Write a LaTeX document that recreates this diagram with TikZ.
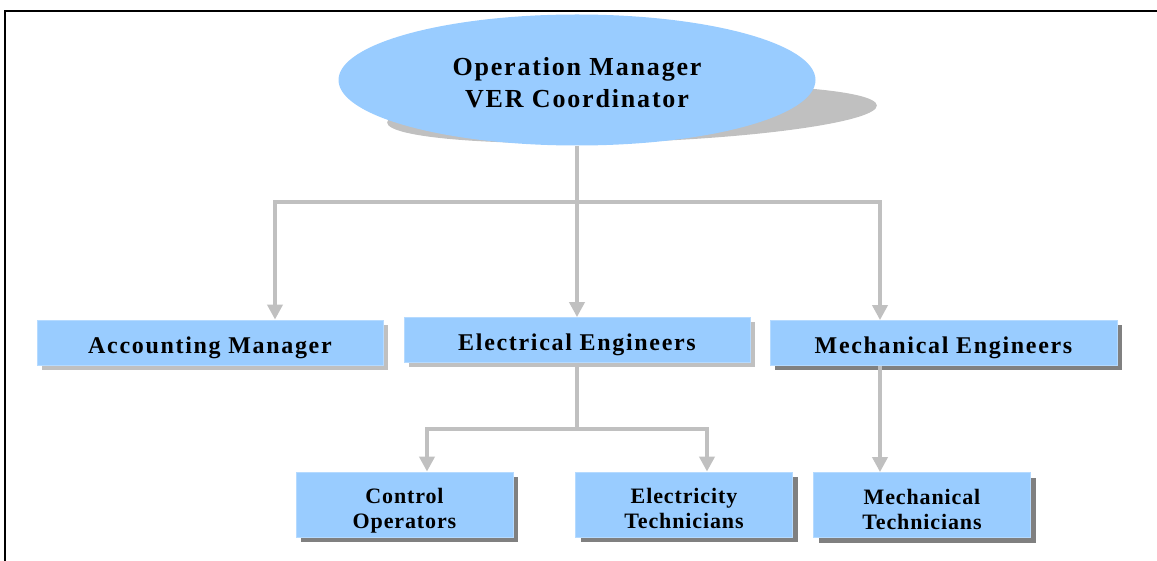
\documentclass[tikz,border=0pt]{standalone}
\usepackage{fontspec}
\usetikzlibrary{arrows.meta,shapes.geometric,shadows}
\newfontfamily\titlefont{Liberation Serif}[LetterSpace=7]
\newfontfamily\rowfont{Liberation Serif}[LetterSpace=4]
\definecolor{boxblue}{HTML}{99CCFF}
\definecolor{edgeblue}{HTML}{B5DAFF}
\definecolor{linegray}{HTML}{C0C0C0}
\definecolor{shadelight}{HTML}{C0C0C0}
\definecolor{shadedark}{HTML}{808080}
\begin{document}
\begin{tikzpicture}[x=1pt,y=-1pt,
  box/.style={rectangle, fill=boxblue, draw=edgeblue, line width=0.8pt, inner sep=0pt, text=black},
  lightshade/.style={general shadow={fill=shadelight, shadow xshift=5pt, shadow yshift=-5pt}},
  darkshade/.style={general shadow={fill=shadedark, shadow xshift=5pt, shadow yshift=-5pt}},
  upper/.style={box, minimum width=346pt, minimum height=45pt, text height=21pt, text depth=0pt, font=\titlefont\bfseries\fontsize{24}{28}\selectfont},
  lower/.style={box, minimum width=217pt, minimum height=65pt, align=center, text height=48pt, text depth=0pt, font=\rowfont\bfseries\fontsize{22}{25}\selectfont},
  conn/.style={draw=linegray, line width=4pt},
  arr/.style={conn, -{Triangle[width=15pt,length=15pt]}},
]
\useasboundingbox (0,0) rectangle (1157,561);
\draw[line width=2.5pt] (5,561) -- (5,11) -- (1157,11);

% top ellipse with its shadow
\fill[shadelight, rotate around={2:(632,114)}] (632,114) ellipse [x radius=245, y radius=28];
\node[ellipse, fill=boxblue, minimum width=477pt, minimum height=131pt, inner sep=0pt, align=center, text height=56pt, text depth=0pt, font=\titlefont\bfseries\fontsize{26}{32}\selectfont] (top) at (577,80) {Operation Manager\\VER Coordinator};

% first row
\node[upper, lightshade] (acc) at (210,342.5) {Accounting Manager};
\node[upper, lightshade] (ee) at (577,340) {Electrical Engineers};
\node[upper, darkshade, minimum width=347pt] (me) at (943.5,343) {Mechanical Engineers};

% second row
\node[lower, darkshade] (co) at (404.5,504.5) {Control\\Operators};
\node[lower, darkshade] (et) at (684,504.5) {Electricity\\Technicians};
\node[lower, darkshade] (mt) at (922,505) {Mechanical\\Technicians};

% connectors
\coordinate (hub) at (577,202);
\coordinate (la) at (275,202);
\coordinate (ra) at (880,202);
\draw[arr] (top.south) -- (hub) -- (hub |- ee.north);
\draw[arr] (hub) -- (la) -- (la |- acc.north);
\draw[arr] (hub) -- (ra) -- (ra |- me.north);

\coordinate (ehub) at (577,429);
\coordinate (cl) at (427,429);
\coordinate (cr) at (707,429);
\draw[arr] (ee.south) -- (ehub) -- (cl) -- (cl |- co.north);
\draw[arr] (ehub) -- (cr) -- (cr |- et.north);
\draw[arr] (ra |- me.south) -- (ra |- mt.north);
\end{tikzpicture}
\end{document}
